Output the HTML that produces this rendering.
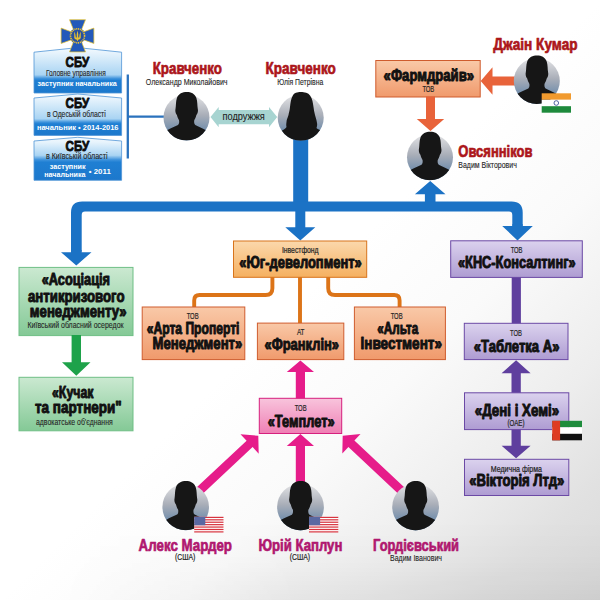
<!DOCTYPE html>
<html><head><meta charset="utf-8"><title>Схема</title>
<style>
html,body{margin:0;padding:0;background:#fff;}
body{width:600px;height:600px;overflow:hidden;}
svg{display:block;font-family:"Liberation Sans",sans-serif;}
</style></head><body>
<svg width="600" height="600" viewBox="0 0 600 600">
<defs>
<linearGradient id="bg" gradientUnits="userSpaceOnUse" x1="0" y1="0" x2="600" y2="600">
<stop offset="0" stop-color="#ffffff"/><stop offset="0.5" stop-color="#ffffff"/><stop offset="0.65" stop-color="#fafafa"/><stop offset="0.8" stop-color="#ededed"/><stop offset="0.9" stop-color="#e1e1e1"/><stop offset="1" stop-color="#d9d9d9"/>
</linearGradient>
<linearGradient id="bg2" x1="0" y1="0" x2="0" y2="1">
<stop offset="0" stop-color="#000" stop-opacity="0"/><stop offset="0.5" stop-color="#000" stop-opacity="0.015"/><stop offset="1" stop-color="#000" stop-opacity="0.05"/>
</linearGradient>
<linearGradient id="bgm" x1="0" y1="0" x2="1" y2="0">
<stop offset="0.1" stop-color="#000"/><stop offset="0.5" stop-color="#fff"/>
</linearGradient>
<mask id="mk"><rect x="0" y="520" width="600" height="80" fill="url(#bgm)"/></mask>
<linearGradient id="pg" x1="0" y1="0" x2="0" y2="1">
<stop offset="0" stop-color="#e4e4e6"/><stop offset="0.45" stop-color="#a9aeb8"/><stop offset="0.8" stop-color="#6f8cab"/><stop offset="1" stop-color="#5f84aa"/>
</linearGradient>
<clipPath id="pc"><circle r="23"/><rect x="-16" y="-30" width="32" height="22"/></clipPath>
<linearGradient id="gsbu" x1="0" y1="0" x2="0" y2="1">
<stop offset="0" stop-color="#f4fafe"/><stop offset="0.12" stop-color="#e6f3fc"/><stop offset="0.6" stop-color="#a9d4f3"/><stop offset="0.68" stop-color="#3f93dc"/><stop offset="0.72" stop-color="#1f7fd3"/><stop offset="1" stop-color="#1c78cc"/>
</linearGradient>
<linearGradient id="gsbu3" x1="0" y1="0" x2="0" y2="1">
<stop offset="0" stop-color="#f4fafe"/><stop offset="0.12" stop-color="#e6f3fc"/><stop offset="0.42" stop-color="#a9d4f3"/><stop offset="0.52" stop-color="#3f93dc"/><stop offset="0.58" stop-color="#1f7fd3"/><stop offset="1" stop-color="#1c78cc"/>
</linearGradient>
<linearGradient id="gor" x1="0" y1="0" x2="0" y2="1">
<stop offset="0" stop-color="#f9c9a8"/><stop offset="1" stop-color="#f09a6c"/>
</linearGradient>
<linearGradient id="gye" x1="0" y1="0" x2="0" y2="1">
<stop offset="0" stop-color="#fbd8ac"/><stop offset="1" stop-color="#f5b060"/>
</linearGradient>
<linearGradient id="ggr" x1="0" y1="0" x2="0" y2="1">
<stop offset="0" stop-color="#cbe9d1"/><stop offset="1" stop-color="#84c996"/>
</linearGradient>
<linearGradient id="gpu" x1="0" y1="0" x2="0" y2="1">
<stop offset="0" stop-color="#dbd2ee"/><stop offset="1" stop-color="#ae9cd2"/>
</linearGradient>
<linearGradient id="gpi" x1="0" y1="0" x2="0" y2="1">
<stop offset="0" stop-color="#f8c4dc"/><stop offset="1" stop-color="#ef7fb4"/>
</linearGradient>
</defs>
<rect width="600" height="600" fill="url(#bg)"/>
<rect x="0" y="520" width="600" height="80" fill="url(#bg2)" mask="url(#mk)"/>

<g fill="#1b72c5">
<rect x="293.2" y="138" width="15" height="70"/>
<path d="M 81.7,251.7 L 81.7,215 Q 81.7,211.6 85,211.6 L 509,211.6 Q 512.3,211.6 512.3,215 L 512.3,226 L 522.7,226 L 522.7,212.5 Q 522.7,201.4 511.5,201.4 L 82.2,201.4 Q 71,201.4 71,212.5 L 71,251.7 Z"/>
</g>
<polygon points="71.0,250.0 71.0,252.2 61.0,252.2 76.3,265.5 91.5,252.2 81.6,252.2 81.6,250.0" fill="#1b72c5"/>
<polygon points="295.3,208.0 295.3,227.3 285.3,227.3 300.3,240.4 315.3,227.3 305.3,227.3 305.3,208.0" fill="#1b72c5"/>
<polygon points="512.4,224.0 512.4,225.9 502.2,225.9 517.5,240.4 532.8,225.9 522.6,225.9 522.6,224.0" fill="#1b72c5"/>
<polygon points="424.9,205.0 424.9,194.2 414.9,194.2 430.2,181.0 445.5,194.2 435.5,194.2 435.5,205.0" fill="#1b72c5"/>
<polygon points="34,52.2 77.8,47.6 121.6,52.2 121.6,93.0 34,93.0" fill="url(#gsbu)" stroke="#4f94d6" stroke-width="0.8"/>
<polygon points="34,98.0 77.8,94.0 121.6,98.0 121.6,135.4 34,135.4" fill="url(#gsbu)" stroke="#4f94d6" stroke-width="0.8"/>
<polygon points="34,141.0 77.8,137.3 121.6,141.0 121.6,180.3 34,180.3" fill="url(#gsbu3)" stroke="#4f94d6" stroke-width="0.8"/>
<path d="M 127.8,74.5 V 158.5 M 127.8,116.6 H 164" stroke="#2a72bd" stroke-width="2.3" fill="none"/>
<text x="65.5" y="66.8" textLength="23.7" lengthAdjust="spacingAndGlyphs" font-size="15.2" font-weight="bold" fill="#0c0c0c" stroke="#0c0c0c" stroke-width="0.85" stroke-linejoin="round">СБУ</text>
<text x="65.5" y="107.9" textLength="23.7" lengthAdjust="spacingAndGlyphs" font-size="15.2" font-weight="bold" fill="#0c0c0c" stroke="#0c0c0c" stroke-width="0.85" stroke-linejoin="round">СБУ</text>
<text x="65.5" y="151.0" textLength="23.7" lengthAdjust="spacingAndGlyphs" font-size="15.2" font-weight="bold" fill="#0c0c0c" stroke="#0c0c0c" stroke-width="0.85" stroke-linejoin="round">СБУ</text>
<text x="46.0" y="75.6" textLength="59.7" lengthAdjust="spacingAndGlyphs" font-size="8.4" font-weight="normal" fill="#262626" stroke="#262626" stroke-width="0.12">Головне управління</text>
<text x="37.5" y="86.1" textLength="79.2" lengthAdjust="spacingAndGlyphs" font-size="7.8" font-weight="bold" fill="#fff" >заступник начальника</text>
<text x="47.0" y="116.5" textLength="58.7" lengthAdjust="spacingAndGlyphs" font-size="8.4" font-weight="normal" fill="#262626" stroke="#262626" stroke-width="0.12">в Одеській області</text>
<text x="36.9" y="130.0" textLength="81.6" lengthAdjust="spacingAndGlyphs" font-size="7.8" font-weight="bold" fill="#fff" >начальник • 2014-2016</text>
<text x="46.0" y="159.3" textLength="61.5" lengthAdjust="spacingAndGlyphs" font-size="8.4" font-weight="normal" fill="#262626" stroke="#262626" stroke-width="0.12">в Київській області</text>
<text x="49.8" y="169.3" textLength="35.7" lengthAdjust="spacingAndGlyphs" font-size="7.6" font-weight="bold" fill="#fff" >заступник</text>
<text x="44.3" y="176.7" textLength="41.2" lengthAdjust="spacingAndGlyphs" font-size="7.6" font-weight="bold" fill="#fff" >начальника</text>
<text x="88.8" y="173.9" textLength="22.0" lengthAdjust="spacingAndGlyphs" font-size="7.8" font-weight="bold" fill="#fff" >• 2011</text>
<g transform="translate(77.5,35.8)">
<g fill="#2359ba" stroke="#eec62a" stroke-width="0.7" stroke-linejoin="miter">
<path d="M -3.6,-5 L -8,-16.1 L 8,-16.1 L 3.6,-5 Z"/>
<path d="M -3.6,5 L -8,16.1 L 8,16.1 L 3.6,5 Z"/>
<path d="M -5,-3.6 L -16.4,-7.7 L -16.4,7.7 L -5,3.6 Z"/>
<path d="M 5,-3.6 L 16.4,-7.7 L 16.4,7.7 L 5,3.6 Z"/>
</g>
<circle r="7.9" fill="#2a55ae"/>
<circle r="7.0" fill="none" stroke="#e9c231" stroke-width="1.7" stroke-dasharray="1.15 0.7"/>
<circle r="5.9" fill="#27509f"/>
<path transform="translate(0,0.3) scale(1.2)" d="M -2.7,-3.8 V 1.4 Q -2.7,2.6 -0.6,3.0 L 0,4.6 L 0.6,3.0 Q 2.7,2.6 2.7,1.4 V -3.8 Q 1.5,-1.8 1.4,1.2 H 0.6 Q 0.8,-2.2 0,-4.6 Q -0.8,-2.2 -0.6,1.2 H -1.4 Q -1.5,-1.8 -2.7,-3.8 Z" fill="#e9c231"/>
</g>
<text x="152.7" y="74.0" textLength="69.3" lengthAdjust="spacingAndGlyphs" font-size="16.6" font-weight="bold" fill="#ac161a" stroke="#ac161a" stroke-width="0.7" stroke-linejoin="round">Кравченко</text>
<text x="145.8" y="84.8" textLength="81.7" lengthAdjust="spacingAndGlyphs" font-size="9" font-weight="normal" fill="#262626" stroke="#262626" stroke-width="0.12">Олександр Миколайович</text>
<g transform="translate(186.5,117.5) scale(1.000)">
<circle r="23" fill="url(#pg)"/>
<path d="M 0.3,-25.6 C -4,-25.6 -8,-24 -9.6,-19.5 C -10.8,-16 -10.4,-12 -11,-8.5 C -11.6,-6 -10.5,-3.5 -9.6,-2.5 C -9,0 -8,1.5 -7.4,3 C -7.2,5 -7.4,6.5 -8.5,7.5 C -12,9.5 -16,10.5 -19,12.5 L -24,16 L -24,24 L 24,24 L 24,16 L 19,12.5 C 16,10.5 12,9.5 8.8,7.5 C 7.7,6.5 7.5,5 7.7,3 C 8.3,1.5 9.3,0 9.9,-2.5 C 10.8,-3.5 11.9,-6 11.3,-8.5 C 10.7,-12 11.1,-16 9.9,-19.5 C 8.3,-24 4.5,-25.6 0.3,-25.6 Z" fill="#161616" clip-path="url(#pc)"/>
</g>
<text x="265.6" y="74.0" textLength="70.2" lengthAdjust="spacingAndGlyphs" font-size="16.6" font-weight="bold" fill="#ac161a" stroke="#ac161a" stroke-width="0.7" stroke-linejoin="round">Кравченко</text>
<text x="277.3" y="84.5" textLength="46.0" lengthAdjust="spacingAndGlyphs" font-size="9" font-weight="normal" fill="#262626" stroke="#262626" stroke-width="0.12">Юлія Петрівна</text>
<g transform="translate(300.7,117.7) scale(1.000)">
<circle r="23" fill="url(#pg)"/>
<path d="M 0,-25.7 C -3.5,-25.7 -6.5,-25 -8,-22 C -9.8,-19 -10.2,-15 -10.7,-10.7 C -11,-7 -11.8,-5 -12.2,-2.7 C -13,0 -14.2,2 -14.2,4.3 C -14.6,6.5 -14.5,8 -14.2,9.3 C -15,10.8 -16.5,11.5 -17.7,12.3 L -24,16 L -24,24 L 24,24 L 24,16 L 19.3,12.3 C 17.5,11.5 16.3,11 15.8,10.3 C 16.5,8.5 16.6,7 16.3,5.3 C 16,2.5 15,0 14.3,-2.7 C 13.5,-5.5 13.2,-8 12.8,-10.7 C 12.2,-15 11.8,-19 9.5,-22 C 7.5,-25 4,-25.7 0,-25.7 Z" fill="#161616" clip-path="url(#pc)"/>
</g>
<polygon points="210.5,117.1 218.7,107 218.7,110 269,110 269,107 277.2,117.1 269,127.2 269,124.2 218.7,124.2 218.7,127.2" fill="#a7d4d1"/>
<text x="222.5" y="119.9" textLength="42.3" lengthAdjust="spacingAndGlyphs" font-size="11.4" font-weight="normal" fill="#1e1e1e" stroke="#1e1e1e" stroke-width="0.12">подружжя</text>
<rect x="375.8" y="60.5" width="104.4" height="36.5" fill="url(#gor)" stroke="#cf5c2e" stroke-width="1"/>
<text x="383.6" y="81.3" textLength="90.4" lengthAdjust="spacingAndGlyphs" font-size="16" font-weight="bold" fill="#111" stroke="#111" stroke-width="0.95" stroke-linejoin="round">«Фармдрайв»</text>
<text x="422.4" y="91.7" textLength="11.8" lengthAdjust="spacingAndGlyphs" font-size="9" font-weight="normal" fill="#262626" stroke="#262626" stroke-width="0.22">ТОВ</text>
<polygon points="515.0,76.5 492.5,76.5 492.5,67.3 480.7,81.0 492.5,94.7 492.5,85.5 515.0,85.5" fill="#e8633a"/>
<polygon points="426.0,96.5 426.0,119.0 416.8,119.0 430.5,131.0 444.2,119.0 435.0,119.0 435.0,96.5" fill="#e8633a"/>
<text x="493.3" y="49.8" textLength="84.2" lengthAdjust="spacingAndGlyphs" font-size="16.6" font-weight="bold" fill="#ac161a" stroke="#ac161a" stroke-width="0.7" stroke-linejoin="round">Джаін Кумар</text>
<g transform="translate(536.8,81.0) scale(1.000)">
<circle r="23" fill="url(#pg)"/>
<path d="M 0.3,-25.6 C -4,-25.6 -8,-24 -9.6,-19.5 C -10.8,-16 -10.4,-12 -11,-8.5 C -11.6,-6 -10.5,-3.5 -9.6,-2.5 C -9,0 -8,1.5 -7.4,3 C -7.2,5 -7.4,6.5 -8.5,7.5 C -12,9.5 -16,10.5 -19,12.5 L -24,16 L -24,24 L 24,24 L 24,16 L 19,12.5 C 16,10.5 12,9.5 8.8,7.5 C 7.7,6.5 7.5,5 7.7,3 C 8.3,1.5 9.3,0 9.9,-2.5 C 10.8,-3.5 11.9,-6 11.3,-8.5 C 10.7,-12 11.1,-16 9.9,-19.5 C 8.3,-24 4.5,-25.6 0.3,-25.6 Z" fill="#161616" clip-path="url(#pc)"/>
</g>
<g><rect x="541.7" y="93.3" width="29.3" height="6.5" fill="#f19a2e"/><rect x="541.7" y="99.8" width="29.3" height="6.4" fill="#fff"/><rect x="541.7" y="106.2" width="29.3" height="6.5" fill="#1e8a3c"/><circle cx="556.3" cy="103" r="2.3" fill="none" stroke="#27408b" stroke-width="0.8"/></g>
<g transform="translate(430.0,157.3) scale(1.000)">
<circle r="23" fill="url(#pg)"/>
<path d="M 0.3,-25.6 C -4,-25.6 -8,-24 -9.6,-19.5 C -10.8,-16 -10.4,-12 -11,-8.5 C -11.6,-6 -10.5,-3.5 -9.6,-2.5 C -9,0 -8,1.5 -7.4,3 C -7.2,5 -7.4,6.5 -8.5,7.5 C -12,9.5 -16,10.5 -19,12.5 L -24,16 L -24,24 L 24,24 L 24,16 L 19,12.5 C 16,10.5 12,9.5 8.8,7.5 C 7.7,6.5 7.5,5 7.7,3 C 8.3,1.5 9.3,0 9.9,-2.5 C 10.8,-3.5 11.9,-6 11.3,-8.5 C 10.7,-12 11.1,-16 9.9,-19.5 C 8.3,-24 4.5,-25.6 0.3,-25.6 Z" fill="#161616" clip-path="url(#pc)"/>
</g>
<text x="458.3" y="157.4" textLength="74.2" lengthAdjust="spacingAndGlyphs" font-size="16.6" font-weight="bold" fill="#ac161a" stroke="#ac161a" stroke-width="0.7" stroke-linejoin="round">Овсянніков</text>
<text x="458.3" y="167.6" textLength="58.5" lengthAdjust="spacingAndGlyphs" font-size="9" font-weight="normal" fill="#262626" stroke="#262626" stroke-width="0.12">Вадим Вікторович</text>
<path d="M 272.4,277 V 288.2 Q 272.4,295 265.6,295 H 199.6 Q 194.2,295 194.2,300.4 V 307 M 300,277 V 323.5 M 328.2,277 V 288.2 Q 328.2,295 335,295 H 394.2 Q 399.6,295 399.6,300.4 V 307" fill="none" stroke="#dc7418" stroke-width="3.9"/>
<rect x="233.5" y="241.0" width="133.2" height="36.3" fill="url(#gye)" stroke="#d8741c" stroke-width="1"/>
<text x="281.9" y="252.6" textLength="36.7" lengthAdjust="spacingAndGlyphs" font-size="8.4" font-weight="normal" fill="#262626" stroke="#262626" stroke-width="0.22">Інвестфонд</text>
<text x="239.3" y="268.2" textLength="122.5" lengthAdjust="spacingAndGlyphs" font-size="16" font-weight="bold" fill="#111" stroke="#111" stroke-width="0.95" stroke-linejoin="round">«Юг-девелопмент»</text>
<rect x="142.2" y="307.0" width="102.6" height="52.6" fill="url(#gor)" stroke="#cf5c2e" stroke-width="1"/>
<text x="186.8" y="319.2" textLength="11.8" lengthAdjust="spacingAndGlyphs" font-size="9" font-weight="normal" fill="#262626" stroke="#262626" stroke-width="0.22">ТОВ</text>
<text x="146.7" y="333.5" textLength="92.8" lengthAdjust="spacingAndGlyphs" font-size="16" font-weight="bold" fill="#111" stroke="#111" stroke-width="0.95" stroke-linejoin="round">«Арта Проперті</text>
<text x="152.5" y="349.3" textLength="89.8" lengthAdjust="spacingAndGlyphs" font-size="16" font-weight="bold" fill="#111" stroke="#111" stroke-width="0.95" stroke-linejoin="round">Менеджмент»</text>
<rect x="257.4" y="323.1" width="86.4" height="36.5" fill="url(#gor)" stroke="#cf5c2e" stroke-width="1"/>
<text x="296.9" y="334.5" textLength="7.6" lengthAdjust="spacingAndGlyphs" font-size="9" font-weight="normal" fill="#262626" stroke="#262626" stroke-width="0.22">АТ</text>
<text x="264.5" y="350.0" textLength="74.5" lengthAdjust="spacingAndGlyphs" font-size="16" font-weight="bold" fill="#111" stroke="#111" stroke-width="0.95" stroke-linejoin="round">«Франклін»</text>
<rect x="354.4" y="307.0" width="91.0" height="52.6" fill="url(#gor)" stroke="#cf5c2e" stroke-width="1"/>
<text x="390.8" y="319.2" textLength="11.8" lengthAdjust="spacingAndGlyphs" font-size="9" font-weight="normal" fill="#262626" stroke="#262626" stroke-width="0.22">ТОВ</text>
<text x="377.3" y="333.5" textLength="40.9" lengthAdjust="spacingAndGlyphs" font-size="16" font-weight="bold" fill="#111" stroke="#111" stroke-width="0.95" stroke-linejoin="round">«Альта</text>
<text x="360.5" y="349.3" textLength="81.5" lengthAdjust="spacingAndGlyphs" font-size="16" font-weight="bold" fill="#111" stroke="#111" stroke-width="0.95" stroke-linejoin="round">Інвестмент»</text>
<rect x="19.0" y="267.4" width="114.0" height="68.2" fill="url(#ggr)" stroke="#6fbf85" stroke-width="1"/>
<text x="41.7" y="285.0" textLength="68.3" lengthAdjust="spacingAndGlyphs" font-size="16" font-weight="bold" fill="#111" stroke="#111" stroke-width="0.95" stroke-linejoin="round">«Асоціація</text>
<text x="28.0" y="301.5" textLength="96.5" lengthAdjust="spacingAndGlyphs" font-size="16" font-weight="bold" fill="#111" stroke="#111" stroke-width="0.95" stroke-linejoin="round">антикризового</text>
<text x="29.8" y="317.0" textLength="96.9" lengthAdjust="spacingAndGlyphs" font-size="16" font-weight="bold" fill="#111" stroke="#111" stroke-width="0.95" stroke-linejoin="round">менеджменту»</text>
<text x="27.5" y="328.2" textLength="96.1" lengthAdjust="spacingAndGlyphs" font-size="8.8" font-weight="normal" fill="#262626" stroke="#262626" stroke-width="0.12">Київський обласний осередок</text>
<polygon points="71.6,335.0 71.6,362.2 62.0,362.2 76.3,375.7 90.5,362.2 81.0,362.2 81.0,335.0" fill="#1ea24a"/>
<rect x="19.0" y="377.3" width="114.0" height="53.5" fill="url(#ggr)" stroke="#6fbf85" stroke-width="1"/>
<text x="52.0" y="397.8" textLength="41.5" lengthAdjust="spacingAndGlyphs" font-size="16" font-weight="bold" fill="#111" stroke="#111" stroke-width="0.95" stroke-linejoin="round">«Кучак</text>
<text x="35.0" y="413.3" textLength="86.7" lengthAdjust="spacingAndGlyphs" font-size="16" font-weight="bold" fill="#111" stroke="#111" stroke-width="0.95" stroke-linejoin="round">та партнери"</text>
<text x="36.0" y="424.6" textLength="76.7" lengthAdjust="spacingAndGlyphs" font-size="9" font-weight="normal" fill="#262626" stroke="#262626" stroke-width="0.12">адвокатське об'єднання</text>
<rect x="511.7" y="277" width="9.2" height="47" fill="#5f3f9e"/>
<rect x="450.7" y="240.8" width="131.6" height="36.6" fill="url(#gpu)" stroke="#6b49a5" stroke-width="1"/>
<text x="510.7" y="253.0" textLength="11.8" lengthAdjust="spacingAndGlyphs" font-size="9" font-weight="normal" fill="#262626" stroke="#262626" stroke-width="0.22">ТОВ</text>
<text x="458.0" y="268.0" textLength="117.6" lengthAdjust="spacingAndGlyphs" font-size="16" font-weight="bold" fill="#111" stroke="#111" stroke-width="0.95" stroke-linejoin="round">«КНС-Консалтинг»</text>
<rect x="464.3" y="323.3" width="103.7" height="36.3" fill="url(#gpu)" stroke="#6b49a5" stroke-width="1"/>
<text x="510.1" y="336.0" textLength="11.8" lengthAdjust="spacingAndGlyphs" font-size="9" font-weight="normal" fill="#262626" stroke="#262626" stroke-width="0.22">ТОВ</text>
<text x="473.8" y="352.0" textLength="85.6" lengthAdjust="spacingAndGlyphs" font-size="16" font-weight="bold" fill="#111" stroke="#111" stroke-width="0.95" stroke-linejoin="round">«Таблетка А»</text>
<polygon points="511.5,393.0 511.5,373.2 501.6,373.2 516.1,360.2 530.6,373.2 520.8,373.2 520.8,393.0" fill="#5f3f9e"/>
<polygon points="511.5,429.0 511.5,445.8 501.6,445.8 516.1,458.2 530.6,445.8 520.8,445.8 520.8,429.0" fill="#5f3f9e"/>
<rect x="464.5" y="392.8" width="104.3" height="36.8" fill="url(#gpu)" stroke="#6b49a5" stroke-width="1"/>
<text x="474.8" y="415.9" textLength="84.4" lengthAdjust="spacingAndGlyphs" font-size="16" font-weight="bold" fill="#111" stroke="#111" stroke-width="0.95" stroke-linejoin="round">«Дені і Хемі»</text>
<text x="507.5" y="425.7" textLength="17.0" lengthAdjust="spacingAndGlyphs" font-size="8.6" font-weight="normal" fill="#262626" stroke="#262626" stroke-width="0.22">(ОАЕ)</text>
<g><rect x="552.2" y="420.8" width="29.8" height="6.5" fill="#1e8c3c"/><rect x="552.2" y="427.3" width="29.8" height="6.5" fill="#fff"/><rect x="552.2" y="433.8" width="29.8" height="6.5" fill="#111"/><rect x="552.2" y="420.8" width="7.9" height="19.5" fill="#de3b22"/></g>
<rect x="464.5" y="459.3" width="104.3" height="36.2" fill="url(#gpu)" stroke="#6b49a5" stroke-width="1"/>
<text x="490.8" y="472.1" textLength="51.2" lengthAdjust="spacingAndGlyphs" font-size="8.6" font-weight="normal" fill="#262626" stroke="#262626" stroke-width="0.22">Медична фірма</text>
<text x="469.2" y="486.0" textLength="95.2" lengthAdjust="spacingAndGlyphs" font-size="16" font-weight="bold" fill="#111" stroke="#111" stroke-width="0.95" stroke-linejoin="round">«Вікторія Лтд»</text>
<polygon points="295.8,399.0 295.8,372.1 286.8,372.1 300.4,360.4 314.0,372.1 305.0,372.1 305.0,399.0" fill="#e61c8a"/>
<polygon points="202.5,494.0 252.6,447.1 258.7,453.7 258.3,435.8 240.5,434.2 246.6,440.7 196.5,487.6" fill="#e61c8a"/>
<polygon points="295.8,483.0 295.8,446.0 286.8,446.0 300.4,434.0 314.0,446.0 305.0,446.0 305.0,483.0" fill="#e61c8a"/>
<polygon points="404.5,487.6 354.4,440.6 360.5,434.1 342.7,435.7 342.3,453.6 348.4,447.0 398.5,494.0" fill="#e61c8a"/>
<rect x="259.3" y="398.3" width="82.4" height="35.2" fill="url(#gpi)" stroke="#d6207e" stroke-width="1"/>
<text x="294.8" y="410.7" textLength="11.8" lengthAdjust="spacingAndGlyphs" font-size="9" font-weight="normal" fill="#262626" stroke="#262626" stroke-width="0.22">ТОВ</text>
<text x="267.7" y="426.5" textLength="66.9" lengthAdjust="spacingAndGlyphs" font-size="16" font-weight="bold" fill="#111" stroke="#111" stroke-width="0.95" stroke-linejoin="round">«Темплет»</text>
<g transform="translate(185.7,507.0) scale(1.013)">
<circle r="23" fill="url(#pg)"/>
<path d="M 0.3,-25.6 C -4,-25.6 -8,-24 -9.6,-19.5 C -10.8,-16 -10.4,-12 -11,-8.5 C -11.6,-6 -10.5,-3.5 -9.6,-2.5 C -9,0 -8,1.5 -7.4,3 C -7.2,5 -7.4,6.5 -8.5,7.5 C -12,9.5 -16,10.5 -19,12.5 L -24,16 L -24,24 L 24,24 L 24,16 L 19,12.5 C 16,10.5 12,9.5 8.8,7.5 C 7.7,6.5 7.5,5 7.7,3 C 8.3,1.5 9.3,0 9.9,-2.5 C 10.8,-3.5 11.9,-6 11.3,-8.5 C 10.7,-12 11.1,-16 9.9,-19.5 C 8.3,-24 4.5,-25.6 0.3,-25.6 Z" fill="#161616" clip-path="url(#pc)"/>
</g>
<g transform="translate(300.5,507.0) scale(1.017)">
<circle r="23" fill="url(#pg)"/>
<path d="M 0.3,-25.6 C -4,-25.6 -8,-24 -9.6,-19.5 C -10.8,-16 -10.4,-12 -11,-8.5 C -11.6,-6 -10.5,-3.5 -9.6,-2.5 C -9,0 -8,1.5 -7.4,3 C -7.2,5 -7.4,6.5 -8.5,7.5 C -12,9.5 -16,10.5 -19,12.5 L -24,16 L -24,24 L 24,24 L 24,16 L 19,12.5 C 16,10.5 12,9.5 8.8,7.5 C 7.7,6.5 7.5,5 7.7,3 C 8.3,1.5 9.3,0 9.9,-2.5 C 10.8,-3.5 11.9,-6 11.3,-8.5 C 10.7,-12 11.1,-16 9.9,-19.5 C 8.3,-24 4.5,-25.6 0.3,-25.6 Z" fill="#161616" clip-path="url(#pc)"/>
</g>
<g transform="translate(415.6,507.0) scale(1.017)">
<circle r="23" fill="url(#pg)"/>
<path d="M 0.3,-25.6 C -4,-25.6 -8,-24 -9.6,-19.5 C -10.8,-16 -10.4,-12 -11,-8.5 C -11.6,-6 -10.5,-3.5 -9.6,-2.5 C -9,0 -8,1.5 -7.4,3 C -7.2,5 -7.4,6.5 -8.5,7.5 C -12,9.5 -16,10.5 -19,12.5 L -24,16 L -24,24 L 24,24 L 24,16 L 19,12.5 C 16,10.5 12,9.5 8.8,7.5 C 7.7,6.5 7.5,5 7.7,3 C 8.3,1.5 9.3,0 9.9,-2.5 C 10.8,-3.5 11.9,-6 11.3,-8.5 C 10.7,-12 11.1,-16 9.9,-19.5 C 8.3,-24 4.5,-25.6 0.3,-25.6 Z" fill="#161616" clip-path="url(#pc)"/>
</g>
<g><rect x="194.2" y="516.8" width="29.3" height="15.7" fill="#fff"/>
<rect x="194.2" y="516.80" width="29.3" height="1.21" fill="#d7343f"/>
<rect x="194.2" y="519.22" width="29.3" height="1.21" fill="#d7343f"/>
<rect x="194.2" y="521.63" width="29.3" height="1.21" fill="#d7343f"/>
<rect x="194.2" y="524.05" width="29.3" height="1.21" fill="#d7343f"/>
<rect x="194.2" y="526.46" width="29.3" height="1.21" fill="#d7343f"/>
<rect x="194.2" y="528.88" width="29.3" height="1.21" fill="#d7343f"/>
<rect x="194.2" y="531.29" width="29.3" height="1.21" fill="#d7343f"/>
<rect x="194.2" y="516.8" width="11.1" height="8.45" fill="#5a68a2"/></g>
<g><rect x="309" y="516.8" width="29.3" height="15.7" fill="#fff"/>
<rect x="309" y="516.80" width="29.3" height="1.21" fill="#d7343f"/>
<rect x="309" y="519.22" width="29.3" height="1.21" fill="#d7343f"/>
<rect x="309" y="521.63" width="29.3" height="1.21" fill="#d7343f"/>
<rect x="309" y="524.05" width="29.3" height="1.21" fill="#d7343f"/>
<rect x="309" y="526.46" width="29.3" height="1.21" fill="#d7343f"/>
<rect x="309" y="528.88" width="29.3" height="1.21" fill="#d7343f"/>
<rect x="309" y="531.29" width="29.3" height="1.21" fill="#d7343f"/>
<rect x="309" y="516.8" width="11.1" height="8.45" fill="#5a68a2"/></g>
<text x="138.6" y="551.4" textLength="93.4" lengthAdjust="spacingAndGlyphs" font-size="16.6" font-weight="bold" fill="#b0176f" stroke="#b0176f" stroke-width="0.7" stroke-linejoin="round">Алекс Мардер</text>
<text x="175.0" y="560.3" textLength="20.4" lengthAdjust="spacingAndGlyphs" font-size="8.6" font-weight="normal" fill="#262626" stroke="#262626" stroke-width="0.22">(США)</text>
<text x="258.4" y="551.4" textLength="84.0" lengthAdjust="spacingAndGlyphs" font-size="16.6" font-weight="bold" fill="#b0176f" stroke="#b0176f" stroke-width="0.7" stroke-linejoin="round">Юрій Каплун</text>
<text x="289.7" y="560.3" textLength="20.4" lengthAdjust="spacingAndGlyphs" font-size="8.6" font-weight="normal" fill="#262626" stroke="#262626" stroke-width="0.22">(США)</text>
<text x="373.0" y="551.4" textLength="86.0" lengthAdjust="spacingAndGlyphs" font-size="16.6" font-weight="bold" fill="#b0176f" stroke="#b0176f" stroke-width="0.7" stroke-linejoin="round">Гордієвський</text>
<text x="390.0" y="560.8" textLength="52.0" lengthAdjust="spacingAndGlyphs" font-size="9" font-weight="normal" fill="#262626" stroke="#262626" stroke-width="0.12">Вадим Іванович</text>
</svg></body></html>
